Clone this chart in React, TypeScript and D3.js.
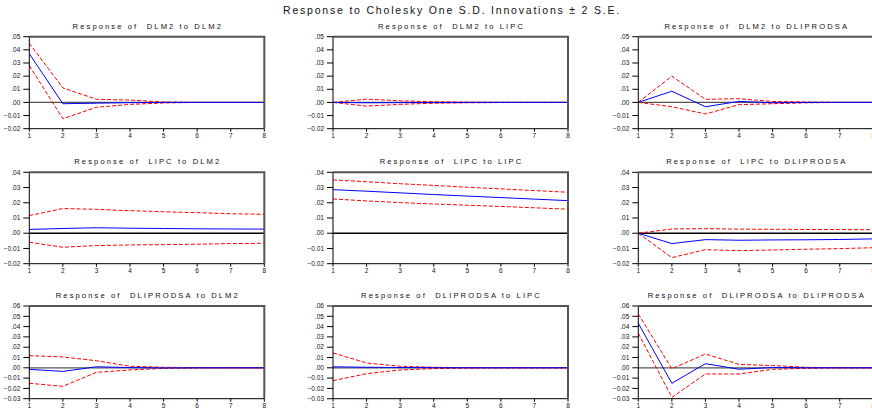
import React from "react";
import * as d3 from "d3";

const periods = [1, 2, 3, 4, 5, 6, 7, 8];
const mainTitle = "Response to Cholesky One S.D. Innovations \u00b1 2 S.E.";

const titles = [
  "Response of  DLM2 to DLM2",
  "Response of  DLM2 to LIPC",
  "Response of  DLM2 to DLIPRODSA",
  "Response of  LIPC to DLM2",
  "Response of  LIPC to LIPC",
  "Response of  LIPC to DLIPRODSA",
  "Response of  DLIPRODSA to DLM2",
  "Response of  DLIPRODSA to LIPC",
  "Response of  DLIPRODSA to DLIPRODSA",
];

const rowDomains = [
  [-0.02, 0.05],
  [-0.02, 0.04],
  [-0.03, 0.06],
];

const resp = [
  [0.037, -0.001, -0.0006, -0.0002, 0, 0, 0, 0],
  [0, -0.0003, -0.0002, -0.0001, 0, 0, 0, 0],
  [0, 0.0085, -0.0033, 0.0008, -0.0003, 0, 0, 0],
  [0.0025, 0.0031, 0.0036, 0.0033, 0.0031, 0.0029, 0.0028, 0.0027],
  [0.0286, 0.0276, 0.0265, 0.0254, 0.0244, 0.0234, 0.0224, 0.0214],
  [0, -0.0068, -0.0042, -0.0046, -0.0044, -0.0043, -0.0041, -0.0037],
  [-0.0015, -0.0035, 0.001, 0.0002, -0.0002, 0, 0, 0],
  [0.001, 0.0005, 0.0003, 0.0001, 0, 0, 0, 0],
  [0.0432, -0.015, 0.004, -0.0014, 0.0003, 0, 0, 0],
];

const upper = [
  [0.045, 0.011, 0.0024, 0.0018, 0.0003, 0, 0, 0],
  [0, 0.0025, 0.0012, 0.0005, 0.0002, 0.0001, 0, 0],
  [0, 0.02, 0.0024, 0.0028, 0.0007, 0.0003, 0, 0],
  [0.0116, 0.0162, 0.0157, 0.0148, 0.0141, 0.0135, 0.0128, 0.0124],
  [0.035, 0.0338, 0.0325, 0.0314, 0.0302, 0.0291, 0.028, 0.0269],
  [0, 0.0028, 0.003, 0.0027, 0.0026, 0.0025, 0.0024, 0.0023],
  [0.0118, 0.0105, 0.0069, 0.0015, 0.0005, 0.0002, 0, 0],
  [0.0144, 0.0047, 0.0015, 0.0005, 0.0002, 0, 0, 0],
  [0.0522, -0.0009, 0.0134, 0.0033, 0.0022, 0.0005, 0, 0],
];

const lower = [
  [0.028, -0.0124, -0.0037, -0.0015, -0.0004, 0, 0, 0],
  [0, -0.0028, -0.0015, -0.0006, -0.0003, -0.0001, 0, 0],
  [0, -0.0033, -0.0088, -0.0017, -0.001, -0.0003, 0, 0],
  [-0.0059, -0.0092, -0.0081, -0.0077, -0.0075, -0.0072, -0.0068, -0.0066],
  [0.0225, 0.0212, 0.0201, 0.0192, 0.0184, 0.0176, 0.0167, 0.0158],
  [0, -0.016, -0.0108, -0.0114, -0.011, -0.0105, -0.0101, -0.0095],
  [-0.015, -0.018, -0.0044, -0.0021, -0.0006, -0.0002, 0, 0],
  [-0.0125, -0.0057, -0.0021, -0.0008, -0.0003, 0, 0, 0],
  [0.0335, -0.0287, -0.006, -0.006, -0.0015, -0.0005, 0, 0],
];

const colLeft = [29.3, 333, 638.3];
const plotW = 235;
const rowTop = [36.7, 172.3, 306];
const rowBottom = [128.7, 263.7, 398.7];
const FONT = "Arial, 'Liberation Sans', sans-serif";

function fmt(v: number): string {
  const s = d3.format(".2f")(Math.abs(v) < 1e-9 ? 0 : v);
  return s.replace(/^(-?)0\./, "$1.");
}

function Panel({ idx }: { idx: number }) {
  const r = Math.floor(idx / 3);
  const c = idx % 3;
  const x0 = colLeft[c];
  const x1 = x0 + plotW;
  const y0 = rowTop[r];
  const y1 = rowBottom[r];
  const [dmin, dmax] = rowDomains[r];
  const x = d3.scaleLinear().domain([1, 8]).range([x0, x1]);
  const y = d3.scaleLinear().domain([dmin, dmax]).range([y1, y0]);
  const ticks = d3.range(Math.round(dmin * 100), Math.round(dmax * 100) + 1).map((k) => k / 100);
  const line = d3
    .line<number>()
    .x((_, i) => x(periods[i]))
    .y((v) => y(v));
  return (
    <g>
      <text
        x={(x0 + x1) / 2 + 1}
        y={y0 - 8}
        textAnchor="middle"
        fontSize={7.6}
        letterSpacing={2.1}
        fontFamily={FONT}
        fill="#111"
        style={{ whiteSpace: "pre" }}
      >
        {titles[idx]}
      </text>
      <rect x={x0} y={y0} width={plotW} height={y1 - y0} fill="white" />
      <line x1={x0} x2={x1} y1={y(0)} y2={y(0)} stroke={r === 1 ? "#000" : "#555"} strokeWidth={1.3} />
      <path d={line(upper[idx]) || ""} fill="none" stroke="#ff0000" strokeWidth={1} strokeDasharray="4,2" />
      <path d={line(lower[idx]) || ""} fill="none" stroke="#ff0000" strokeWidth={1} strokeDasharray="4,2" />
      <path d={line(resp[idx]) || ""} fill="none" stroke="#0000ff" strokeWidth={1} />
      <line x1={x0} x2={x0} y1={y0} y2={y1} stroke="#000" strokeWidth={1} />
      <line x1={x0} x2={x1} y1={y1} y2={y1} stroke="#000" strokeWidth={1} />
      <line x1={x0} x2={x1 + 1} y1={y0} y2={y0} stroke="#555" strokeWidth={2} />
      <line x1={x1} x2={x1} y1={y0} y2={y1} stroke="#555" strokeWidth={2} />
      {ticks.map((t) => (
        <g key={t}>
          <line x1={x0 - 6} x2={x0} y1={y(t)} y2={y(t)} stroke="#000" strokeWidth={1} />
          <text
            x={x0 - 9}
            y={y(t) + 2.2}
            textAnchor="end"
            fontSize={6.5}
            fontFamily={FONT}
            fill="#111"
          >
            {fmt(t)}
          </text>
        </g>
      ))}
      {periods.map((p) => (
        <g key={p}>
          <line x1={x(p)} x2={x(p)} y1={y1} y2={y1 + 3} stroke="#000" strokeWidth={1} />
          <text x={x(p)} y={y1 + 9.5} textAnchor="middle" fontSize={6.5} fontFamily={FONT} fill="#111">
            {p}
          </text>
        </g>
      ))}
    </g>
  );
}

export default function App() {
  return (
    <svg
      width={872}
      height={411}
      style={{ position: "absolute", left: 0, top: 0, display: "block", background: "white" }}
    >
      <rect x={0} y={0} width={872} height={411} fill="white" />
      <text x={452} y={14} textAnchor="middle" fontSize={10.5} letterSpacing={1.8} fontFamily={FONT} fill="#111">
        {mainTitle}
      </text>
      {titles.map((_, i) => (
        <Panel key={i} idx={i} />
      ))}
    </svg>
  );
}
